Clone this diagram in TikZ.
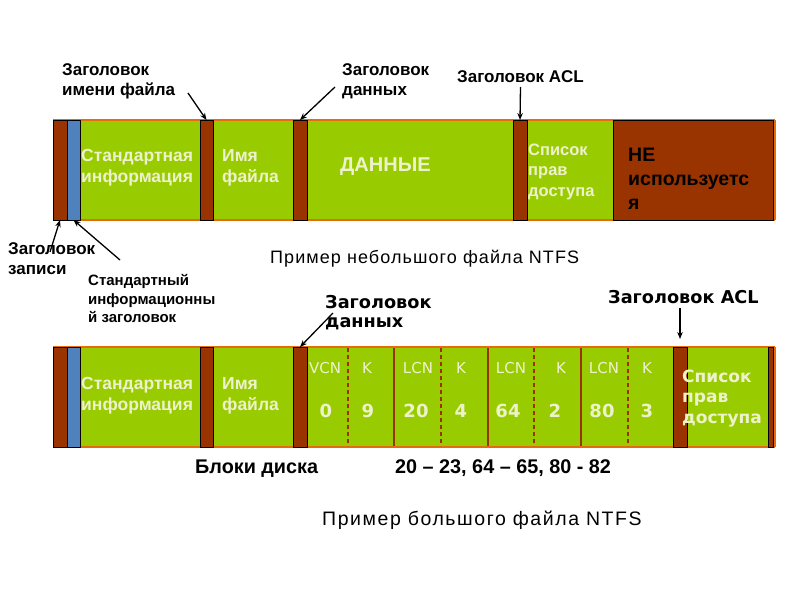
\documentclass[tikz,border=0pt]{standalone}
\usepackage{fontspec}
\setmainfont{Liberation Sans}
\newfontfamily\dvs{DejaVu Sans}
\newfontfamily\lsps[LetterSpace=6]{Liberation Sans}
\newfontfamily\lspl[LetterSpace=8]{Liberation Sans}
\usetikzlibrary{arrows.meta}
\definecolor{barg}{HTML}{99CC00}
\definecolor{barb}{HTML}{993300}
\definecolor{barbl}{HTML}{4F81BD}
\definecolor{baro}{HTML}{E46C0A}
\definecolor{lt}{HTML}{EEF2CC}
\begin{document}
\begin{tikzpicture}[x=1pt,y=-1pt,
  seg/.style={draw=black, line width=1pt, inner sep=0pt, outer sep=0pt, anchor=north west, minimum height=100pt},
  brn/.style={seg, fill=barb},
  blu/.style={seg, fill=barbl},
  lbl/.style={font=\bfseries\fontsize{17}{20}\selectfont, align=left, inner sep=0pt, anchor=base west},
  slbl/.style={font=\bfseries\fontsize{15}{18.6}\selectfont, align=left, inner sep=0pt, anchor=base west},
  dlbl/.style={font=\dvs\bfseries\fontsize{17.7}{19.5}\selectfont, align=left, inner sep=0pt, anchor=base west},
  intxt/.style={font=\bfseries\fontsize{17.5}{21}\selectfont, text=lt, align=left, inner sep=0pt, anchor=base west},
  coltxt/.style={font=\dvs\fontsize{15}{18}\selectfont, text=lt, inner sep=0pt, anchor=base},
  numtxt/.style={font=\dvs\bfseries\fontsize{18}{20}\selectfont, text=lt, inner sep=0pt, anchor=base},
  captxt/.style={inner sep=0pt, anchor=base west},
  blk/.style={font=\bfseries\fontsize{19.8}{22}\selectfont, inner sep=0pt, anchor=base west},
  arr/.style={-{Stealth[length=7pt,width=5.5pt]}, line width=1.3pt},
  orl/.style={draw=baro, line width=2pt},
  dashdiv/.style={draw=barb, line width=1.5pt, dash pattern=on 4pt off 3pt},
  soldiv/.style={draw=barb, line width=1.5pt}
]
\useasboundingbox[fill=white] (0,0) rectangle (800,600);

% ---------------- top bar ----------------
\fill[barg] (53,120) rectangle (775,220);
\draw[orl] (53,120) -- (775,120);
\draw[orl] (53,220) -- (775,220);
\draw[draw=baro, line width=1.5pt] (775,120) -- (775,220);
\node[brn, minimum width=14pt] (rh1) at (53,120) {};
\node[blu, minimum width=13pt] (si1) at (67,120) {};
\node[brn, minimum width=13pt] (fh1) at (200,120) {};
\node[brn, minimum width=14pt] (dh1) at (293,120) {};
\node[brn, minimum width=14pt] (ah1) at (513,120) {};
\node[brn, minimum width=160pt] (nu1) at (613,120) {};

\node[intxt] (st1) at (81,182.7) {Стандартная\\информация};
\node[intxt] (fn1) at (222,182.7) {Имя\\файла};
\node[intxt, font=\bfseries\fontsize{20}{22}\selectfont] (da1) at (340,171.5) {ДАННЫЕ};
\node[intxt, font=\bfseries\fontsize{16.5}{20.5}\selectfont] (ac1) at (528,196) {Список\\прав\\доступа};
\node[lbl, text=black, font=\bfseries\fontsize{19.5}{24}\selectfont] (ne1) at (628,209.7) {НЕ\\используетс\\я};

% labels above top bar
\node[lbl] (lfh) at (62,95) {Заголовок\\имени файла};
\node[lbl] (ldh) at (342,95) {Заголовок\\данных};
\node[lbl] (lah) at (457,82) {Заголовок ACL};
\coordinate (c1) at (188,93);
\coordinate (c2) at (335,87);
\coordinate (c3) at (520.5,87);
\draw[arr] (c1) -- (fh1.north);
\draw[arr] (c2) -- (dh1.north);
\draw[arr] (c3) -- (ah1.north);

% labels below top bar
\node[lbl] (lrh) at (8,274) {Заголовок\\записи};
\node[slbl] (lsi) at (88,322.9) {Стандартный\\информационны\\й заголовок};
\coordinate (c4) at (50,252);
\coordinate (c5) at (120,260);
\draw[arr] (c4) -- (rh1.south);
\draw[arr] (c5) -- (si1.south);

\node[captxt, font=\lsps\fontsize{18}{20}\selectfont] (cap1) at (270,263.3) {Пример небольшого файла NTFS};

% ---------------- bottom bar ----------------
\fill[barg] (53,347) rectangle (775,447);
\draw[orl] (53,347) -- (775,347);
\draw[orl] (53,447) -- (775,447);
\draw[draw=baro, line width=1.5pt] (775,347) -- (775,447);
\node[brn, minimum width=14pt] (rh2) at (53,347) {};
\node[blu, minimum width=13.5pt] (si2) at (67,347) {};
\node[brn, minimum width=13pt] (fh2) at (200,347) {};
\node[brn, minimum width=14pt] (dh2) at (293,347) {};
\node[brn, minimum width=14pt] (ah2) at (673,347) {};
\node[brn, minimum width=5pt] (eb2) at (768,347) {};

\foreach \x in {348,441,534,628} \draw[dashdiv] (\x,348) -- (\x,446);
\foreach \x in {394,488,581} \draw[soldiv] (\x,348) -- (\x,446);

\node[intxt] (st2) at (81,410.5) {Стандартная\\информация};
\node[intxt] (fn2) at (222,410.5) {Имя\\файла};

\node[coltxt] (v1) at (325,373) {VCN};
\node[coltxt] (k1) at (367,373) {K};
\node[coltxt] (l2) at (418,373) {LCN};
\node[coltxt] (k2) at (461,373) {K};
\node[coltxt] (l3) at (511,373) {LCN};
\node[coltxt] (k3) at (561,373) {K};
\node[coltxt] (l4) at (604,373) {LCN};
\node[coltxt] (k4) at (647,373) {K};

\node[numtxt] (n1) at (326,417) {0};
\node[numtxt] (n2) at (368,417) {9};
\node[numtxt] (n3) at (416,417) {20};
\node[numtxt] (n4) at (461,417) {4};
\node[numtxt] (n5) at (508,417) {64};
\node[numtxt] (n6) at (555,417) {2};
\node[numtxt] (n7) at (602,417) {80};
\node[numtxt] (n8) at (647,417) {3};

\node[intxt, font=\dvs\bfseries\fontsize{17}{20.5}\selectfont] (ac2) at (682,423) {Список\\прав\\доступа};

% labels above bottom bar
\node[dlbl] (ldh2) at (325,327.5) {Заголовок\\данных};
\node[dlbl] (lah2) at (608,303) {Заголовок ACL};
\coordinate (c6) at (333,313);
\coordinate (c7) at (680,308);
\draw[arr] (c6) -- (dh2.north);
\draw[arr, shorten >=8pt] (c7) -- (ah2.north);

% below bottom bar
\node[blk] (bd) at (195,473) {Блоки диска};
\node[blk] (br) at (395,473) {20 – 23, 64 – 65, 80 - 82};
\node[captxt, font=\lspl\fontsize{19.5}{22}\selectfont] (cap2) at (322,525) {Пример большого файла NTFS};
\end{tikzpicture}
\end{document}
